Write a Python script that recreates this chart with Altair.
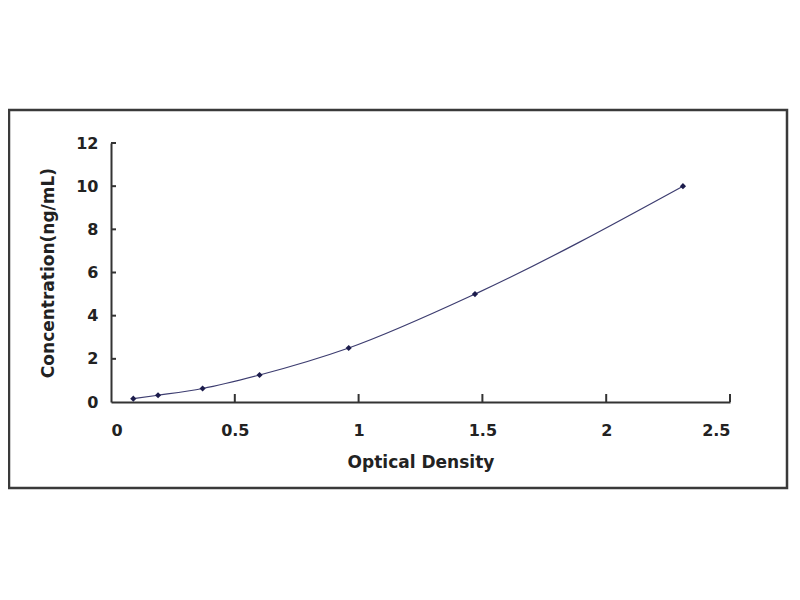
import pandas as pd
import altair as alt

# standard curve readings
od = [0.09, 0.19, 0.37, 0.60, 0.96, 1.47, 2.31]
conc = [0.156, 0.312, 0.625, 1.25, 2.5, 5.0, 10.0]
x_ticks = [0, 0.5, 1, 1.5, 2, 2.5]
y_ticks = [0, 2, 4, 6, 8, 10, 12]

W, H = 619, 259
FONT = "DejaVu Sans"

data = pd.DataFrame({"od": od, "conc": conc})

x_scale = alt.Scale(domain=[0, 2.5], nice=False)
y_scale = alt.Scale(domain=[0, 12], nice=False)

x_axis = alt.Axis(values=x_ticks, tickSize=0, labelPadding=20, titlePadding=16,
                  labelFontSize=16, titleFontSize=17, grid=False, format="~g")
y_axis = alt.Axis(values=y_ticks, tickSize=0, labelPadding=13, titlePadding=18,
                  labelFontSize=16, titleFontSize=17, grid=False)

base = alt.Chart(data)

curve = base.mark_line(interpolate="monotone", color="#3d3d70", strokeWidth=1.2).encode(
    x=alt.X("od:Q", scale=x_scale, axis=x_axis, title="Optical Density"),
    y=alt.Y("conc:Q", scale=y_scale, axis=y_axis, title="Concentration(ng/mL)"),
)

points = base.mark_point(shape="diamond", filled=True, size=38, color="#1c1c4c", opacity=1).encode(
    x=alt.X("od:Q", scale=x_scale),
    y=alt.Y("conc:Q", scale=y_scale),
)

# inward tick marks
xt = alt.Chart(pd.DataFrame({"t": x_ticks[1:]})).mark_rule(color="#333", strokeWidth=2).encode(
    x=alt.X("t:Q", scale=x_scale),
    y=alt.value(H),
    y2=alt.value(H - 8),
)
yt = alt.Chart(pd.DataFrame({"t": y_ticks[1:]})).mark_rule(color="#333", strokeWidth=2).encode(
    y=alt.Y("t:Q", scale=y_scale),
    x=alt.value(0),
    x2=alt.value(5),
)

# outer frame around the figure
frame = alt.Chart(pd.DataFrame({"a": [0]})).mark_rect(
    fill=None, fillOpacity=0, stroke="#3a3a3a", strokeWidth=2.5
).encode(
    x=alt.value(-102), x2=alt.value(676), y=alt.value(-33), y2=alt.value(345)
)

chart = alt.layer(frame, curve, xt, yt, points).properties(
    width=W,
    height=H,
    autosize=alt.AutoSizeParams(type="none"),
    padding={"left": 103, "top": 135, "right": 62, "bottom": 160},
    background="white",
).configure_view(stroke=None).configure_axis(
    domainColor="#333",
    domainWidth=2,
    labelFont=FONT,
    titleFont=FONT,
    labelFontWeight="bold",
    titleFontWeight="bold",
    labelColor="#222",
    titleColor="#222",
)

chart.save("out.html", embed_options={"renderer": "svg", "actions": False})
